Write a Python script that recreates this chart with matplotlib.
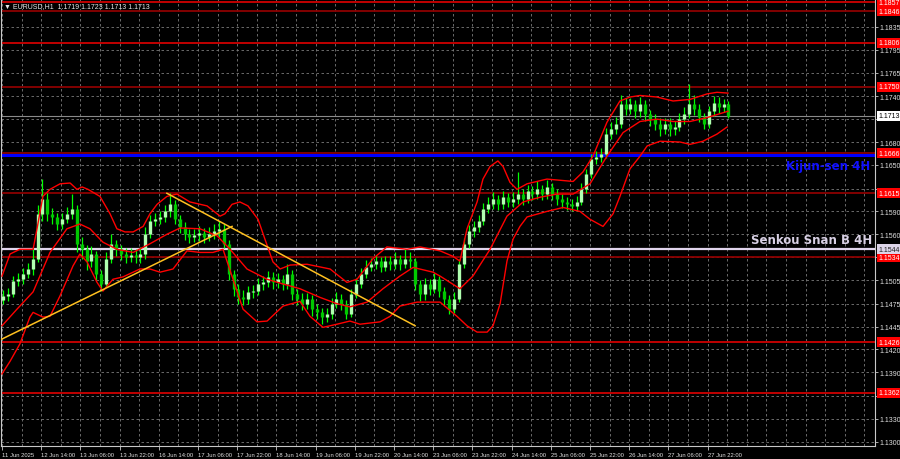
import matplotlib
matplotlib.use("Agg")
import matplotlib.pyplot as plt
import matplotlib.transforms as mtransforms
import numpy as np

# EURUSD H1, one candle per two hourly bars, prices in pips (11485 -> 1.1485)
open_first = 11480
close_p = [11485, 11487, 11504, 11506, 11513, 11519, 11532, 11589, 11608, 11589,
           11585, 11576, 11582, 11589, 11595, 11551, 11544, 11529, 11538, 11513,
           11500, 11532, 11551, 11544, 11538, 11534, 11537, 11534, 11538, 11563,
           11580, 11582, 11585, 11592, 11601, 11582, 11572, 11563, 11560, 11562,
           11565, 11560, 11563, 11567, 11570, 11551, 11513, 11494, 11483, 11481,
           11490, 11491, 11500, 11502, 11509, 11502, 11506, 11500, 11513, 11487,
           11481, 11475, 11481, 11468, 11465, 11458, 11462, 11475, 11481, 11475,
           11462, 11487, 11500, 11513, 11522, 11525, 11529, 11522, 11529, 11525,
           11532, 11525, 11532, 11529, 11500, 11487, 11500, 11494, 11506, 11491,
           11481, 11468, 11481, 11525, 11551, 11567, 11572, 11580, 11595, 11601,
           11608, 11601, 11610, 11604, 11608, 11614, 11608, 11618, 11614, 11620,
           11614, 11623, 11614, 11608, 11604, 11601, 11599, 11604, 11620, 11639,
           11658, 11661, 11665, 11690, 11696, 11703, 11728, 11722, 11728, 11719,
           11728, 11715, 11709, 11703, 11696, 11703, 11696, 11699, 11709, 11715,
           11728, 11722, 11712, 11703, 11719, 11730, 11724, 11728, 11713]
high_p = [11492, 11495, 11510, 11514, 11520, 11526, 11545, 11600, 11633, 11615,
          11596, 11590, 11590, 11597, 11614, 11600, 11560, 11550, 11548, 11542,
          11518, 11540, 11563, 11556, 11550, 11545, 11545, 11544, 11547, 11572,
          11588, 11590, 11593, 11600, 11615, 11606, 11588, 11578, 11570, 11570,
          11573, 11571, 11572, 11576, 11580, 11576, 11556, 11518, 11500, 11492,
          11498, 11499, 11508, 11510, 11517, 11515, 11514, 11512, 11525, 11518,
          11494, 11488, 11489, 11486, 11475, 11470, 11470, 11482, 11490, 11487,
          11480, 11494, 11508, 11520, 11530, 11533, 11537, 11534, 11536, 11535,
          11540, 11537, 11544, 11540, 11533, 11505, 11508, 11506, 11514, 11510,
          11496, 11486, 11490, 11532, 11558, 11575, 11580, 11588, 11603, 11610,
          11616, 11613, 11618, 11615, 11616, 11642, 11620, 11626, 11624, 11630,
          11626, 11632, 11628, 11620, 11614, 11610, 11608, 11612, 11628, 11646,
          11665, 11668, 11672, 11698, 11705, 11712, 11740, 11736, 11736, 11733,
          11737, 11733, 11720, 11715, 11710, 11710, 11710, 11707, 11717, 11724,
          11753, 11740, 11728, 11717, 11726, 11738, 11737, 11735, 11732]
low_p = [11474, 11478, 11483, 11497, 11500, 11507, 11512, 11528, 11580, 11580,
         11576, 11568, 11570, 11577, 11583, 11540, 11532, 11518, 11522, 11505,
         11491, 11496, 11526, 11536, 11530, 11527, 11528, 11526, 11527, 11532,
         11558, 11573, 11576, 11579, 11585, 11576, 11565, 11556, 11552, 11553,
         11555, 11552, 11554, 11557, 11560, 11545, 11505, 11485, 11475, 11473,
         11475, 11482, 11486, 11493, 11496, 11494, 11495, 11492, 11494, 11480,
         11473, 11467, 11468, 11460, 11456, 11449, 11452, 11456, 11470, 11467,
         11456, 11458, 11482, 11495, 11507, 11516, 11519, 11515, 11516, 11518,
         11519, 11518, 11520, 11520, 11492, 11478, 11480, 11486, 11488, 11483,
         11472, 11462, 11463, 11477, 11520, 11545, 11560, 11566, 11575, 11590,
         11595, 11594, 11595, 11597, 11598, 11602, 11600, 11603, 11606, 11608,
         11606, 11608, 11606, 11600, 11596, 11594, 11593, 11593, 11600, 11615,
         11634, 11652, 11655, 11660, 11684, 11690, 11698, 11714, 11716, 11710,
         11712, 11707, 11700, 11695, 11688, 11690, 11688, 11689, 11694, 11703,
         11710, 11714, 11705, 11696, 11698, 11713, 11717, 11718, 11710]

# Bollinger bands (bar index, pips)
upper_bar = [0, 3.3, 7.3, 12.7, 14.3, 16.7, 19.6, 23.7, 27.8, 30.6, 32.7, 35.1, 40, 44.1,
             46.9, 50.2, 53.5, 57.6, 60.4, 63.3, 67.3, 71.4, 76.7, 83.7, 89, 91, 93.9,
             97.1, 100.4, 104.5, 107.3, 110.6, 113.5, 117.6, 124.5, 133.9, 140.8, 144.9,
             151.4, 157.1, 165.3, 170.6, 178.8, 184.1, 186.9, 189.8, 193.9, 196.3, 199.2,
             202.4, 204.5, 207.3, 210.2, 214.3, 222.4, 233.1, 237.1, 241.2, 246.9, 252.2,
             256.3, 260.4, 267.3, 273.9, 280.8, 287.8, 291.8, 296.3]
upper_p = [11510, 11538, 11544, 11544, 11570, 11611, 11620, 11627, 11628, 11620, 11623,
           11620, 11611, 11589, 11570, 11566, 11566, 11573, 11589, 11601, 11611, 11614,
           11604, 11599, 11586, 11589, 11601, 11604, 11599, 11582, 11557, 11528, 11519,
           11524, 11525, 11519, 11502, 11506, 11532, 11547, 11544, 11547, 11542, 11535,
           11529, 11570, 11604, 11633, 11649, 11656, 11649, 11629, 11620, 11627, 11633,
           11630, 11642, 11662, 11705, 11732, 11737, 11739, 11737, 11732, 11734, 11741,
           11743, 11742]
mid_bar = [0, 6.1, 12.7, 19.6, 26.5, 31.8, 35.9, 41.2, 46.9, 53.5, 60.4, 67.3, 72.7, 80.8,
           87.8, 93.1, 100, 108.2, 114.7, 121.6, 129.8, 136.7, 142, 149, 155.5, 162.4,
           167.8, 175.9, 178.8, 186.9, 192.2, 199.2, 206.1, 212.7, 219.6, 226.5, 233.1,
           240, 246.9, 253.5, 260.4, 267.3, 273.9, 280.8, 287.8, 296.3]
mid_p = [11447, 11468, 11490, 11540, 11570, 11576, 11570, 11553, 11544, 11540, 11551,
         11563, 11571, 11570, 11561, 11544, 11519, 11506, 11500, 11494, 11483, 11475,
         11471, 11477, 11494, 11510, 11521, 11515, 11510, 11494, 11510, 11544, 11586,
         11604, 11610, 11614, 11614, 11627, 11662, 11692, 11706, 11709, 11706, 11706,
         11711, 11719]
lower_bar = [0, 3.3, 7.3, 11.4, 12.7, 16.7, 19.6, 23.7, 29, 31.8, 34.7, 38.8, 41.2, 45.3,
             49.4, 56.3, 60.4, 64.5, 69.8, 75.5, 80.8, 86.1, 90.2, 94.3, 98.4, 104.1,
             108.2, 114.7, 121.6, 125.7, 131, 136.7, 142, 146.1, 154.3, 158.4, 162.4,
             169.4, 178.8, 185.7, 189.8, 193.9, 198, 200.4, 203.3, 206.1, 208.6, 211.4,
             214.3, 222.4, 229, 235.9, 240, 245.3, 249.4, 252.2, 256.3, 260.4, 263.3,
             268.6, 276.7, 280.8, 286.1, 291.8, 295.9]
lower_p = [11386, 11402, 11424, 11458, 11464, 11458, 11459, 11485, 11523, 11538, 11528,
           11502, 11491, 11506, 11509, 11519, 11519, 11515, 11519, 11542, 11540, 11540,
           11544, 11506, 11468, 11452, 11453, 11472, 11478, 11459, 11445, 11449, 11453,
           11449, 11452, 11459, 11472, 11477, 11477, 11459, 11447, 11439, 11439, 11447,
           11475, 11529, 11557, 11573, 11585, 11592, 11597, 11592, 11582, 11573, 11589,
           11611, 11646, 11662, 11675, 11681, 11680, 11677, 11681, 11690, 11699]

# trend lines (bar index, price)
rise_line = ([-0.8, 93.9], [1.1429, 1.1573])
fall_line = ([67.3, 168.6], [1.1615, 1.1447])

# horizontal levels
levels = [1.1857, 1.1846, 1.1806, 1.1750, 1.1666, 1.1615, 1.1534, 1.1426, 1.1362]
bright_levels = [1.1857, 1.1806, 1.1426, 1.1362]
kijun = 1.1663
senkou_b = 1.1544
last_price = 1.1713

# right scale (labels hidden under the price boxes are left empty)
tick_prices = [1.1300, 1.1329, 1.1358, 1.1388, 1.1417, 1.1446, 1.1475, 1.1505, 1.1534,
               1.1563, 1.1592, 1.1621, 1.1651, 1.1680, 1.1709, 1.1738, 1.1768, 1.1797, 1.1826]
tick_labels = ['1.1300', '1.1330', '', '1.1390', '1.1420', '1.1445', '1.1475', '1.1505',
               '', '1.1560', '1.1590', '', '1.1650', '1.1680', '', '1.1740',
               '1.1765', '1.1795', '1.1835']
time_labels = ['11 Jun 2025', '12 Jun 14:00', '13 Jun 06:00', '13 Jun 22:00', '16 Jun 14:00',
               '17 Jun 06:00', '17 Jun 22:00', '18 Jun 14:00', '19 Jun 06:00', '19 Jun 22:00',
               '20 Jun 14:00', '23 Jun 06:00', '23 Jun 22:00', '24 Jun 14:00', '25 Jun 06:00',
               '25 Jun 22:00', '26 Jun 14:00', '27 Jun 06:00', '27 Jun 22:00']
title = 'EURUSD,H1  1.1719 1.1723 1.1713 1.1713'

plt.rcParams['font.family'] = ['Liberation Sans', 'DejaVu Sans']

close = np.array(close_p) / 10000
high = np.array(high_p) / 10000
low = np.array(low_p) / 10000
opens = np.r_[open_first / 10000, close[:-1]]
bars = np.arange(len(close)) * 2 + 0.5

fig = plt.figure(figsize=(9, 4.6), dpi=100, facecolor='black')
ax = fig.add_axes([1 / 900, 13 / 460, 874 / 900, 447 / 460], facecolor='black')
ax.set_xlim(-0.4, 356.3)
ax.set_ylim(1.12946, 1.18613)

# grid
for b in np.arange(0, 357, 8):
    ax.axvline(b, color='#7a7a7a', lw=0.6, ls=(0, (3, 3)), zorder=0)
for p in tick_prices:
    ax.axhline(p, color='#7a7a7a', lw=0.6, ls=(0, (3, 3)), zorder=0)

# levels
for lv in levels:
    c = '#d00000' if lv in bright_levels else '#8c0000'
    ax.axhline(lv, color=c, lw=1.3, zorder=1)
ax.axhline(kijun, color='#0000ff', lw=2.2, zorder=1)
ax.axhline(senkou_b, color='#e0d4ec', lw=1.6, zorder=1)
ax.axhline(last_price, color='#8a8a8a', lw=0.8, zorder=1)

# candles
up = close >= opens
ax.vlines(bars, low, high, color='#00ff00', lw=0.9, zorder=3)
ax.vlines(bars[up], opens[up], close[up], color='#b0ffb0', lw=2.4, zorder=3)
ax.vlines(bars[~up], close[~up], opens[~up], color='#00c800', lw=2.4, zorder=3)

# bands
for xb, yp in [(upper_bar, upper_p), (mid_bar, mid_p), (lower_bar, lower_p)]:
    ax.plot(xb, np.array(yp) / 10000, color='#ff0000', lw=1.0, zorder=4)

# trend lines
ax.plot(*rise_line, color='#ffc020', lw=1.1, zorder=5)
ax.plot(*fall_line, color='#ffc020', lw=1.1, zorder=5)

# text labels
tr = mtransforms.blended_transform_factory(ax.transAxes, ax.transData)
ax.text(0.9943, 1.1650, 'Kijun-sen 4H', transform=tr, ha='right', va='center',
        color='#1010ff', fontsize=8.5, fontweight='bold', family='DejaVu Sans', zorder=6)
ax.text(0.9966, 1.1557, 'Senkou Snan B 4H', transform=tr, ha='right', va='center',
        color='#d8d0e4', fontsize=8.5, fontweight='bold', family='DejaVu Sans', zorder=6)

# axes
ax.spines['top'].set_visible(False)
for s in ['right', 'bottom', 'left']:
    ax.spines[s].set_color('#c8c8c8')
    ax.spines[s].set_linewidth(0.8)
ax.yaxis.tick_right()
ax.set_yticks(tick_prices)
ax.set_yticklabels(tick_labels)
ax.tick_params(axis='y', colors='#c8c8c8', labelcolor='#e0e0e0', labelsize=5, length=2, pad=1.5, width=0.6)
ax.set_xticks(np.arange(len(time_labels)) * 16)
ax.set_xticklabels(time_labels)
ax.tick_params(axis='x', colors='#c8c8c8', labelcolor='#e0e0e0', labelsize=4.2, length=3, pad=1.5, width=0.6)
for lab in ax.get_xticklabels():
    lab.set_ha('left')

# price boxes on the right scale
def price_box(price, fc, tc):
    ax.annotate(f'{price:.4f}', xy=(1.0, price), xycoords=('axes fraction', 'data'),
                xytext=(2.2, 0), textcoords='offset points', va='center', ha='left',
                fontsize=5, color=tc, annotation_clip=False, zorder=10,
                bbox=dict(boxstyle='square,pad=0.2', fc=fc, ec='none'))

for lv in levels:
    price_box(lv, '#ff0000', 'white')
price_box(senkou_b, '#dcd4e8', '#202020')
price_box(last_price, 'white', 'black')

fig.text(4 / 900, 1 - 7 / 460, '\u25bc ' + title, color='#e8e8e8', fontsize=5, va='center', ha='left')

fig.savefig('out.png', dpi=100, facecolor='black')
